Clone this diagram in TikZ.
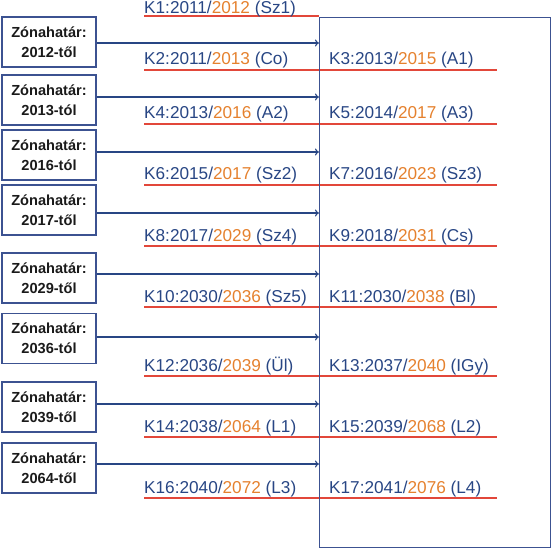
\documentclass[tikz,border=0pt]{standalone}
\usepackage{fontspec}
\setmainfont{Liberation Sans}
\usetikzlibrary{arrows.meta}
\definecolor{navy}{HTML}{284684}
\definecolor{boxblue}{HTML}{3C5291}
\definecolor{orng}{HTML}{E5812E}
\definecolor{redl}{HTML}{E2473A}
\definecolor{txtblk}{HTML}{1A1A1A}
\tikzset{
  zone/.style={draw=boxblue, line width=1.4pt, minimum width=94pt, minimum height=50pt,
    inner sep=0pt, align=center, text=txtblk,
    font=\fontsize{14.6}{20}\selectfont\bfseries},
  lbl/.style={anchor=base west, inner sep=0pt, text=navy, font=\fontsize{17.2}{20}\selectfont},
  redline/.style={draw=redl, line width=1.2pt},
  arr/.style={draw=navy, line width=1.1pt, -{To[length=4pt,width=7pt]}},
  frame/.style={draw=boxblue, line width=1.3pt}
}
\newcommand{\yr}[3]{#1/\textcolor{orng}{#2} #3}
\begin{document}
\begin{tikzpicture}[x=1pt,y=-1pt]
\useasboundingbox (0,0) rectangle (551,548);
% underlines
\draw[redline] (144,16) -- (319,16);
\foreach \y in {70,124,185,246,307,376,437,498}
  \draw[redline] (144,\y) -- (497,\y);
% big frame
\node[frame, minimum width=231pt, minimum height=530pt, inner sep=0pt, anchor=north west] (R) at (319,17) {};
% zone boxes
\node[zone] (b1) at (49,42)    {Zónahatár:\\2012-től};
\node[zone] (b2) at (49,100)   {Zónahatár:\\2013-tól};
\node[zone] (b3) at (49,155)   {Zónahatár:\\2016-tól};
\node[zone] (b4) at (49,210)   {Zónahatár:\\2017-től};
\node[zone] (b5) at (49,278)   {Zónahatár:\\2029-től};
\node[zone] (b6) at (49,338.5) {Zónahatár:\\2036-tól};
\node[zone] (b7) at (49,407)   {Zónahatár:\\2039-től};
\node[zone] (b8) at (49,468)   {Zónahatár:\\2064-től};
% arrow targets on the frame
\coordinate (a1) at (319,43);
\coordinate (a2) at (319,97);
\coordinate (a3) at (319,152);
\coordinate (a4) at (319,213);
\coordinate (a5) at (319,274);
\coordinate (a6) at (319,337);
\coordinate (a7) at (319,404);
\coordinate (a8) at (319,464);
\foreach \i in {1,...,8}
  \draw[arr] (b\i.east |- a\i) -- (a\i);
% labels left column
\node[lbl] (k1)  at (144,13.5) {\yr{K1:2011}{2012}{(Sz1)}};
\node[lbl] (k2)  at (144,65) {\yr{K2:2011}{2013}{(Co)}};
\node[lbl] (k4)  at (144,119) {\yr{K4:2013}{2016}{(A2)}};
\node[lbl] (k6)  at (144,180) {\yr{K6:2015}{2017}{(Sz2)}};
\node[lbl] (k8)  at (144,241) {\yr{K8:2017}{2029}{(Sz4)}};
\node[lbl] (k10) at (144,302) {\yr{K10:2030}{2036}{(Sz5)}};
\node[lbl] (k12) at (144,371) {\yr{K12:2036}{2039}{(Ül)}};
\node[lbl] (k14) at (144,432) {\yr{K14:2038}{2064}{(L1)}};
\node[lbl] (k16) at (144,493) {\yr{K16:2040}{2072}{(L3)}};
% labels right column
\node[lbl] (k3)  at (329,65) {\yr{K3:2013}{2015}{(A1)}};
\node[lbl] (k5)  at (329,119) {\yr{K5:2014}{2017}{(A3)}};
\node[lbl] (k7)  at (329,180) {\yr{K7:2016}{2023}{(Sz3)}};
\node[lbl] (k9)  at (329,241) {\yr{K9:2018}{2031}{(Cs)}};
\node[lbl] (k11) at (329,302) {\yr{K11:2030}{2038}{(Bl)}};
\node[lbl] (k13) at (329,371) {\yr{K13:2037}{2040}{(IGy)}};
\node[lbl] (k15) at (329,432) {\yr{K15:2039}{2068}{(L2)}};
\node[lbl] (k17) at (329,493) {\yr{K17:2041}{2076}{(L4)}};
\end{tikzpicture}
\end{document}
